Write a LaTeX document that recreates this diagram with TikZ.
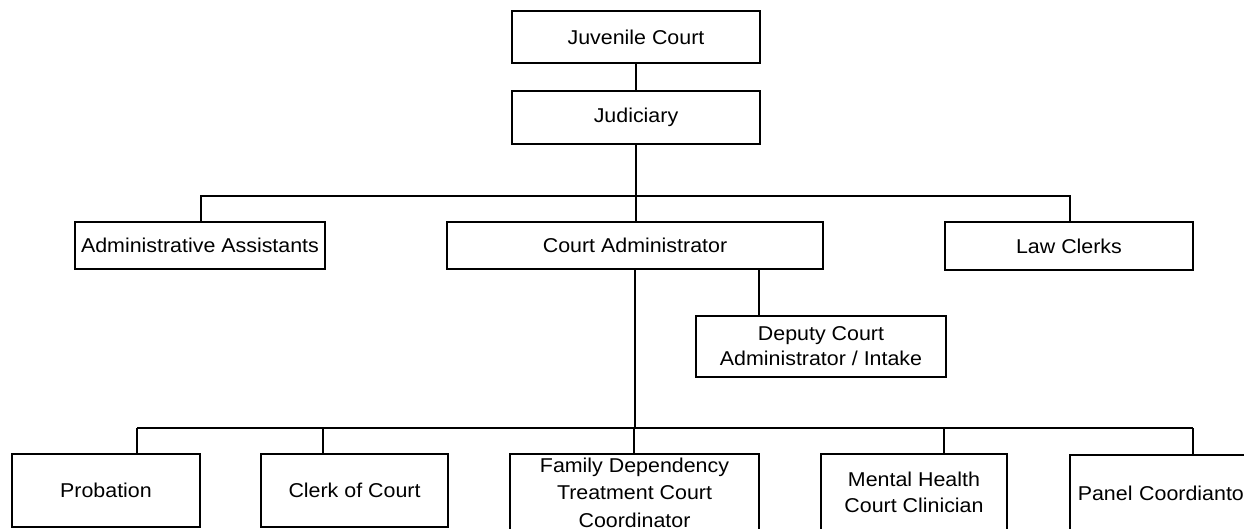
\documentclass[tikz,border=0pt]{standalone}
\usepackage{fontspec}
\setmainfont[FakeStretch=1.07]{Liberation Sans}
\begin{document}
\begin{tikzpicture}[x=1pt,y=-1pt,
  box/.style={draw, line width=1.6pt, inner sep=0pt, align=center,
              font=\fontsize{20}{25}\selectfont},
  link/.style={line width=1.6pt}]
\useasboundingbox (0,0) rectangle (1244,529);
\clip (0,0) rectangle (1244,529);

% top of the hierarchy
\node[box, minimum width=248, minimum height=52] (jc)  at (636,37)    {Juvenile Court};
\node[box, minimum width=248, minimum height=53] (jud) at (636,117.5) {Judiciary};

% second level
\node[box, minimum width=250, minimum height=47] (aa) at (200,245.5)  {Administrative Assistants};
\node[box, minimum width=376, minimum height=47] (ca) at (635,245.5)  {Court Administrator};
\node[box, minimum width=248, minimum height=48] (lc) at (1069,246)   {Law Clerks};
\node[box, minimum width=250, minimum height=61] (dep) at (821,346.5) {Deputy Court\\Administrator / Intake};

% units under the court administrator
\node[box, minimum width=188, minimum height=73] (prob)  at (106,490.5)   {Probation};
\node[box, minimum width=187, minimum height=73] (clerk) at (354.5,490.5) {Clerk of Court};
\node[box, minimum width=249, minimum height=77, font=\fontsize{20}{27.5}\selectfont]
     (fam) at (634.5,492.5) {Family Dependency\\Treatment Court\\Coordinator};
\node[box, minimum width=186, minimum height=77, font=\fontsize{20}{26}\selectfont]
     (mh) at (914,492.5) {Mental Health\\Court Clinician};
\node[box, anchor=north west, align=left, inner xsep=8pt, text width=240,
      minimum height=77] (panel) at (1069,454) {Panel Coordiantor};

% connectors
\draw[link] (jc.south) -- (jud.north);
\coordinate (busL) at (201,196);
\coordinate (busR) at (1070,196);
\draw[link] (busL |- aa.north) -- (busL) -- (busR) -- (busR |- lc.north);
\draw[link] (jud.south) -- (jud.south |- ca.north);

\coordinate (dtap) at (759,300);
\draw[link] (ca.south -| dtap) -- (dep.north -| dtap);

\coordinate (lowL) at (137,428);
\coordinate (lowR) at (1193,428);
\draw[link] (ca.south) -- (ca.south |- lowL);
\draw[link] (lowL) -- (lowR);
\foreach \n/\x in {prob/137, clerk/323, fam/634, mh/944, panel/1193}{
  \coordinate (t\n) at (\x,428);
  \draw[link] (t\n) -- (t\n |- \n.north);
}
\end{tikzpicture}
\end{document}
